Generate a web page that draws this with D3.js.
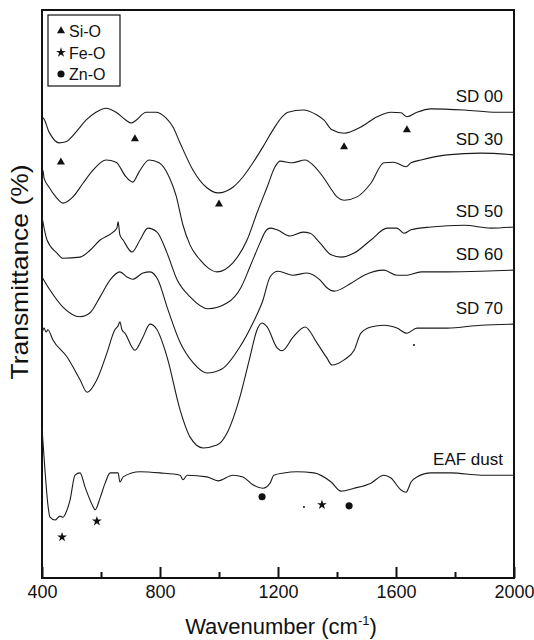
<!DOCTYPE html>
<html>
<head>
<meta charset="utf-8">
<script src="https://cdn.jsdelivr.net/npm/d3@7"></script>
<style>
body { margin: 0; background: #fff; }
text { font-family: Arial, "Liberation Sans", Helvetica, sans-serif; fill: #111; }
</style>
</head>
<body>
<div class="chart"></div>
<script>
var width = 534;
var height = 640;
var margin = {top: 10, right: 20, bottom: 62, left: 42};

// spectra: [wavenumber (cm-1), transmittance (a.u., offset)]
var sd00 = [[400,81.0],[403,81.0],[424,78.5],[458,76.6],[481,76.8],[515,78.5],[549,80.6],[583,82.0],[617,82.7],[651,82.0],[685,80.6],[702,80.1],[719,80.6],[753,82.0],[786,82.0],[820,81.0],[844,79.4],[868,76.6],[912,71.8],[959,68.7],[997,67.8],[1047,68.8],[1081,70.6],[1115,73.1],[1149,75.9],[1183,78.9],[1214,81.2],[1234,82.0],[1285,82.4],[1332,81.5],[1356,80.6],[1383,78.9],[1424,78.3],[1481,79.4],[1536,81.2],[1583,82.0],[1617,81.9],[1637,81.2],[1671,82.0],[1719,82.6],[1831,82.4],[1942,82.0],[2000,82.0]];
var sd30 = [[400,69.7],[403,71.8],[407,70.4],[424,68.8],[447,67.1],[471,66.0],[505,67.1],[539,69.5],[573,71.8],[617,73.6],[651,73.2],[685,70.6],[708,69.7],[729,71.5],[763,73.6],[797,73.1],[831,70.6],[854,67.4],[878,62.1],[902,58.6],[936,56.0],[963,54.6],[993,53.9],[1047,55.5],[1095,59.5],[1129,64.3],[1163,68.8],[1190,72.4],[1207,73.4],[1248,73.1],[1292,73.6],[1319,72.7],[1353,70.6],[1376,68.8],[1400,67.1],[1424,66.5],[1468,67.1],[1515,69.5],[1559,73.1],[1593,73.2],[1617,72.7],[1634,72.4],[1651,73.1],[1685,73.6],[1773,74.5],[1888,74.8],[2000,74.5]];
var sd50 = [[400,63.6],[417,59.5],[451,57.2],[471,56.3],[529,56.5],[563,57.7],[597,59.5],[641,60.9],[654,61.6],[658,62.7],[664,60.4],[675,59.5],[705,57.4],[732,59.5],[759,61.6],[790,60.9],[824,57.2],[858,52.5],[902,49.5],[963,47.4],[1027,48.4],[1075,51.2],[1105,54.8],[1139,59.0],[1156,60.9],[1173,61.6],[1197,61.3],[1241,60.2],[1285,60.9],[1309,60.7],[1342,59.0],[1380,56.9],[1414,56.5],[1458,57.2],[1515,59.5],[1570,61.6],[1603,61.6],[1627,60.7],[1651,61.3],[1719,61.8],[1831,62.1],[1922,61.6],[2000,61.8]];
var sd60 = [[400,53.0],[427,50.7],[471,47.7],[529,46.0],[563,46.7],[597,49.5],[631,52.5],[664,53.9],[688,53.0],[708,52.6],[742,53.7],[766,53.9],[793,52.5],[824,47.7],[868,41.5],[912,37.9],[959,36.1],[1010,36.8],[1071,40.7],[1115,44.9],[1149,48.9],[1173,53.0],[1200,54.0],[1251,53.3],[1298,53.7],[1342,52.5],[1366,51.1],[1390,50.5],[1448,51.9],[1492,53.3],[1559,54.2],[1603,53.3],[1637,53.3],[1685,53.9],[1773,53.9],[1888,54.0],[2000,54.2]];
var sd70 = [[400,43.1],[407,44.0],[414,43.3],[420,43.7],[437,41.9],[485,38.9],[529,34.9],[553,32.7],[586,34.9],[620,39.6],[647,43.7],[658,44.4],[664,45.1],[671,43.7],[681,43.1],[715,40.1],[742,42.4],[766,44.7],[790,43.7],[824,38.9],[868,29.6],[902,24.8],[946,22.9],[993,23.4],[1027,25.5],[1071,31.9],[1105,38.9],[1129,43.7],[1146,44.9],[1163,44.2],[1197,40.5],[1214,40.0],[1251,42.4],[1292,44.2],[1332,41.4],[1366,38.7],[1383,37.5],[1424,38.4],[1458,40.1],[1481,43.1],[1515,44.2],[1559,44.5],[1603,44.0],[1637,43.1],[1671,44.0],[1773,44.0],[1888,44.5],[2000,44.7]];
var eaf = [[400,26.4],[410,19.0],[420,12.9],[427,10.7],[444,10.2],[461,10.9],[471,10.7],[485,12.0],[495,13.7],[512,18.1],[529,18.5],[546,16.0],[570,12.9],[580,12.0],[597,14.1],[614,16.7],[631,18.5],[658,18.5],[664,16.9],[675,17.8],[732,18.7],[800,18.5],[868,18.1],[878,17.3],[892,18.1],[959,17.8],[997,17.1],[1047,18.1],[1081,17.8],[1115,16.4],[1149,15.8],[1173,16.7],[1186,18.1],[1220,18.5],[1264,18.7],[1322,18.5],[1380,16.9],[1414,15.3],[1458,15.8],[1515,16.7],[1559,18.1],[1583,17.6],[1617,15.5],[1634,15.1],[1651,16.9],[1671,17.8],[1719,18.5],[1787,18.5],[1888,18.1],[2000,18.1]];

var series = [sd00, sd30, sd50, sd60, sd70, eaf];
var series_names = ["SD 00", "SD 30", "SD 50", "SD 60", "SD 70", "EAF dust"];

// band markers
var si_o = [[464,73.2],[715,77.3],[1000,65.8],[1424,75.9],[1637,78.9]];
var fe_o = [[468,7.2],[586,10.0],[1349,12.9]];
var zn_o = [[1146,14.3],[1441,12.7]];
var specks = [[1288,12.5],[1661,41.0]];

var legend_names = ["Si-O", "Fe-O", "Zn-O"];
var major_ticks = [400, 800, 1200, 1600, 2000];
var minor_ticks = [600, 1000, 1400, 1800];

var svg = d3.select(".chart").append("svg")
	.attr("width", width)
	.attr("height", height);

var xScale = d3.scaleLinear()
	.domain([400, 2000])
	.range([margin.left, width - margin.right]);
var yScale = d3.scaleLinear()
	.domain([0, 100])
	.range([height - margin.bottom, margin.top]);

var plot_bottom = height - margin.bottom;

// major ticks with labels (pointing inward)
var xAxis = d3.axisBottom(xScale)
	.tickValues(major_ticks)
	.tickFormat(d3.format("d"))
	.tickSize(-11)
	.tickPadding(7);
var gx = svg.append("g")
	.attr("transform", "translate(0," + plot_bottom + ")")
	.call(xAxis);
gx.select(".domain").remove();
gx.selectAll("line").attr("stroke", "#111").attr("stroke-width", 2);
gx.selectAll("text")
	.style("font-size", "18px")
	.attr("fill", "#111");

// minor ticks
var xMinor = d3.axisBottom(xScale)
	.tickValues(minor_ticks)
	.tickFormat("")
	.tickSize(-6);
var gm = svg.append("g")
	.attr("transform", "translate(0," + plot_bottom + ")")
	.call(xMinor);
gm.select(".domain").remove();
gm.selectAll("line").attr("stroke", "#111").attr("stroke-width", 2);

// frame
svg.append("rect")
	.attr("x", xScale(400))
	.attr("y", yScale(100))
	.attr("width", xScale(2000) - xScale(400))
	.attr("height", yScale(0) - yScale(100))
	.attr("fill", "none")
	.attr("stroke", "#111")
	.attr("stroke-width", 2);

// spectra
var line = d3.line()
	.x(function (d) { return xScale(d[0]); })
	.y(function (d) { return yScale(d[1]); })
	.curve(d3.curveMonotoneX);

svg.append("g").selectAll("path")
	.data(series)
	.enter().append("path")
	.attr("d", line)
	.attr("fill", "none")
	.attr("stroke", "#1a1a1a")
	.attr("stroke-width", 1.1);

// series labels at right end
svg.append("g").selectAll("text")
	.data(series)
	.enter().append("text")
	.attr("x", xScale(2000) - 11)
	.attr("y", function (d) { return yScale(d[d.length - 1][1]) - 10; })
	.attr("text-anchor", "end")
	.style("font-size", "17px")
	.text(function (d, i) { return series_names[i]; });

// markers
var sym_tri = d3.symbol().type(d3.symbolTriangle).size(28);
var sym_star = d3.symbol().type(d3.symbolStar).size(30);
var sym_circ = d3.symbol().type(d3.symbolCircle).size(40);

function draw_markers(data, sym) {
	svg.append("g").selectAll("path")
		.data(data)
		.enter().append("path")
		.attr("d", sym)
		.attr("transform", function (d) { return "translate(" + xScale(d[0]) + "," + yScale(d[1]) + ")"; })
		.attr("fill", "#111");
}
draw_markers(si_o, sym_tri);
draw_markers(fe_o, sym_star);
draw_markers(zn_o, sym_circ);

svg.append("g").selectAll("circle")
	.data(specks)
	.enter().append("circle")
	.attr("cx", function (d) { return xScale(d[0]); })
	.attr("cy", function (d) { return yScale(d[1]); })
	.attr("r", 1)
	.attr("fill", "#111");

// legend
var legend = svg.append("g").attr("transform", "translate(48,15)");
legend.append("rect")
	.attr("width", 72)
	.attr("height", 71)
	.attr("fill", "#fff")
	.attr("stroke", "#111")
	.attr("stroke-width", 1.2);
var legend_syms = [sym_tri, sym_star, sym_circ];
legend_names.forEach(function (name, i) {
	var yy = 16 + i * 21.5;
	legend.append("path")
		.attr("d", legend_syms[i])
		.attr("transform", "translate(13," + yy + ")")
		.attr("fill", "#111");
	legend.append("text")
		.attr("x", 21)
		.attr("y", yy + 6)
		.style("font-size", "16px")
		.text(name);
});

// axis titles
var xt = svg.append("text")
	.attr("x", (xScale(400) + xScale(2000)) / 2 + 3)
	.attr("y", 634)
	.attr("text-anchor", "middle")
	.style("font-size", "22px");
xt.append("tspan").text("Wavenumber (cm");
xt.append("tspan").attr("dy", -9).style("font-size", "13px").text("-1");
xt.append("tspan").attr("dy", 9).text(")");

svg.append("text")
	.attr("transform", "translate(28,272) rotate(-90)")
	.attr("text-anchor", "middle")
	.attr("textLength", 215)
	.attr("lengthAdjust", "spacingAndGlyphs")
	.style("font-size", "24px")
	.text("Transmittance (%)");
</script>
</body>
</html>
